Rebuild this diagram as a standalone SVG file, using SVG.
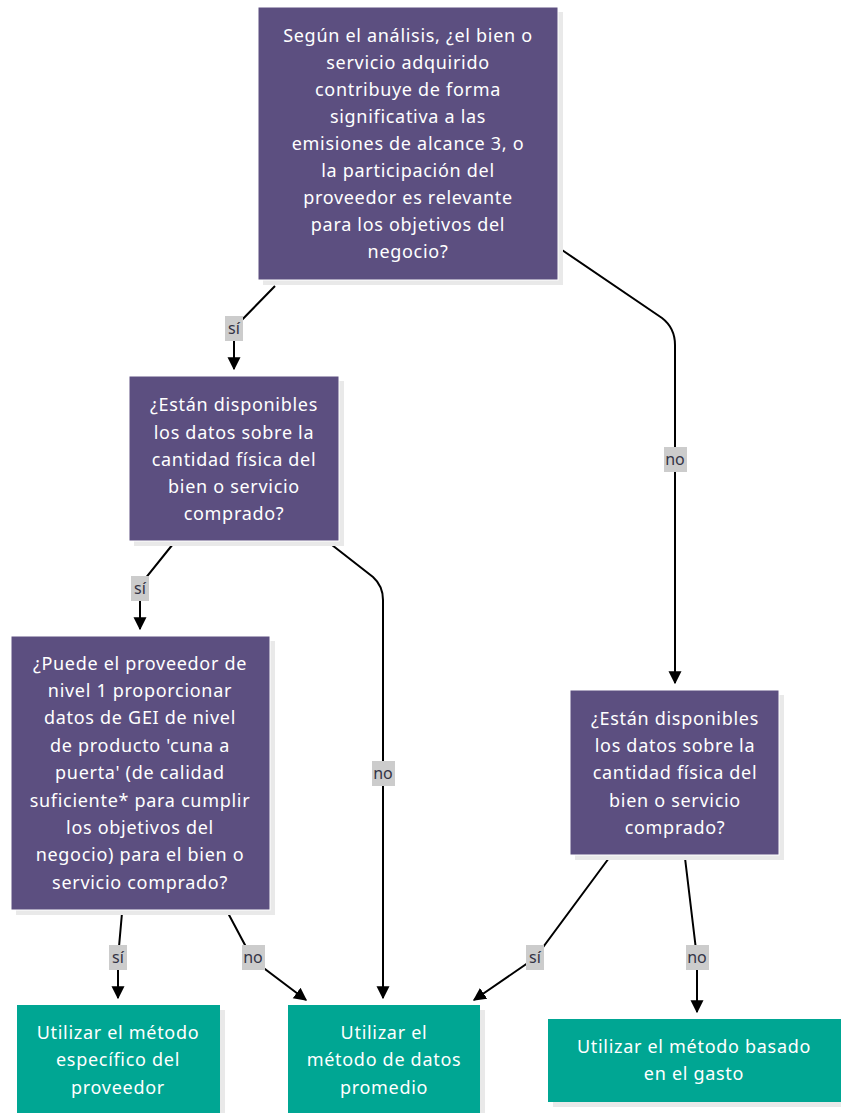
<svg xmlns="http://www.w3.org/2000/svg" width="841" height="1113" viewBox="0 0 841 1113">
<defs>
<marker id="arr" viewBox="0 0 10 10" refX="9" refY="5" markerWidth="13" markerHeight="14" markerUnits="userSpaceOnUse" orient="auto">
<path d="M0,0 L10,5 L0,10 z" fill="#000"/>
</marker>
<style>
.shadow{fill:#e9e9e9}
.q{fill:#5c4f80;stroke:#ffffff;stroke-width:1}
.a{fill:#00a693}
.t{font-family:"Noto Sans","Open Sans",sans-serif;font-size:18px;letter-spacing:0.7px;fill:#ffffff;text-anchor:middle;dominant-baseline:central}
.e{fill:none;stroke:#000;stroke-width:2;marker-end:url(#arr)}
.lb{fill:#cccccc}
.lt{font-family:"Noto Sans","Open Sans",sans-serif;font-size:16px;fill:#333344;text-anchor:middle;dominant-baseline:central}
</style>
</defs>
<rect width="841" height="1113" fill="#ffffff"/>
<g id="connectors">
<path class="e" d="M275,286 L234,328 L234,369"/>
<path class="e" d="M562,250 L662,318 Q675,328 675,345 L675,683"/>
<path class="e" d="M173,544 L140,585 L140,629"/>
<path class="e" d="M332,545 L373,577 Q383,586 383,600 L383,998"/>
<path class="e" d="M122,913 L118,958 L118,998"/>
<path class="e" d="M228,913 L253,960 L306,1000"/>
<path class="e" d="M609,858 L535,958 L474,1000"/>
<path class="e" d="M685,858 L697,958 L697,1012"/>
<rect class="lb" x="225" y="316" width="18" height="25"/><text class="lt" x="234" y="328">sí</text>
<rect class="lb" x="664" y="447" width="23" height="25"/><text class="lt" x="675" y="459">no</text>
<rect class="lb" x="131" y="576" width="18" height="25"/><text class="lt" x="140" y="588">sí</text>
<rect class="lb" x="372" y="761" width="23" height="25"/><text class="lt" x="383" y="773">no</text>
<rect class="lb" x="109" y="945" width="18" height="25"/><text class="lt" x="118" y="957">sí</text>
<rect class="lb" x="242" y="945" width="23" height="25"/><text class="lt" x="253" y="957">no</text>
<rect class="lb" x="526" y="945" width="18" height="25"/><text class="lt" x="535" y="957">sí</text>
<rect class="lb" x="686" y="945" width="23" height="25"/><text class="lt" x="697" y="957">no</text>
</g>
<g id="n1">
<rect class="shadow" x="263" y="12" width="300" height="273"/>
<rect class="q" x="258" y="7" width="300" height="273"/>
<text class="t"><tspan x="408" y="35">Según el análisis, ¿el bien o</tspan><tspan x="408" y="62">servicio adquirido</tspan><tspan x="408" y="89">contribuye de forma</tspan><tspan x="408" y="116">significativa a las</tspan><tspan x="408" y="143">emisiones de alcance 3, o</tspan><tspan x="408" y="170">la participación del</tspan><tspan x="408" y="197">proveedor es relevante</tspan><tspan x="408" y="224">para los objetivos del</tspan><tspan x="408" y="251">negocio?</tspan></text>
</g>
<g id="n2">
<rect class="shadow" x="134" y="381" width="210" height="165"/>
<rect class="q" x="129" y="376" width="210" height="165"/>
<text class="t"><tspan x="234" y="404">¿Están disponibles</tspan><tspan x="234" y="432">los datos sobre la</tspan><tspan x="234" y="459">cantidad física del</tspan><tspan x="234" y="486">bien o servicio</tspan><tspan x="234" y="513">comprado?</tspan></text>
</g>
<g id="n3">
<rect class="shadow" x="16" y="641" width="259" height="274"/>
<rect class="q" x="11" y="636" width="259" height="274"/>
<text class="t"><tspan x="140" y="663">¿Puede el proveedor de</tspan><tspan x="140" y="690">nivel 1 proporcionar</tspan><tspan x="140" y="717">datos de GEI de nivel</tspan><tspan x="140" y="745">de producto 'cuna a</tspan><tspan x="140" y="772">puerta' (de calidad</tspan><tspan x="140" y="800">suficiente* para cumplir</tspan><tspan x="140" y="827">los objetivos del</tspan><tspan x="140" y="854">negocio) para el bien o</tspan><tspan x="140" y="882">servicio comprado?</tspan></text>
</g>
<g id="n4">
<rect class="shadow" x="575" y="695" width="209" height="165"/>
<rect class="q" x="570" y="690" width="209" height="165"/>
<text class="t"><tspan x="675" y="718">¿Están disponibles</tspan><tspan x="675" y="745">los datos sobre la</tspan><tspan x="675" y="772">cantidad física del</tspan><tspan x="675" y="800">bien o servicio</tspan><tspan x="675" y="827">comprado?</tspan></text>
</g>
<g id="n5">
<rect class="shadow" x="22" y="1010" width="203" height="110"/>
<rect class="a" x="17" y="1005" width="203" height="110"/>
<text class="t"><tspan x="118" y="1032">Utilizar el método</tspan><tspan x="118" y="1059">específico del</tspan><tspan x="118" y="1087">proveedor</tspan></text>
</g>
<g id="n6">
<rect class="shadow" x="293" y="1010" width="192" height="110"/>
<rect class="a" x="288" y="1005" width="192" height="110"/>
<text class="t"><tspan x="384" y="1032">Utilizar el</tspan><tspan x="384" y="1059">método de datos</tspan><tspan x="384" y="1087">promedio</tspan></text>
</g>
<g id="n7">
<rect class="shadow" x="553" y="1024" width="295" height="83"/>
<rect class="a" x="548" y="1019" width="295" height="83"/>
<text class="t"><tspan x="694" y="1046">Utilizar el método basado</tspan><tspan x="694" y="1073">en el gasto</tspan></text>
</g>
</svg>
